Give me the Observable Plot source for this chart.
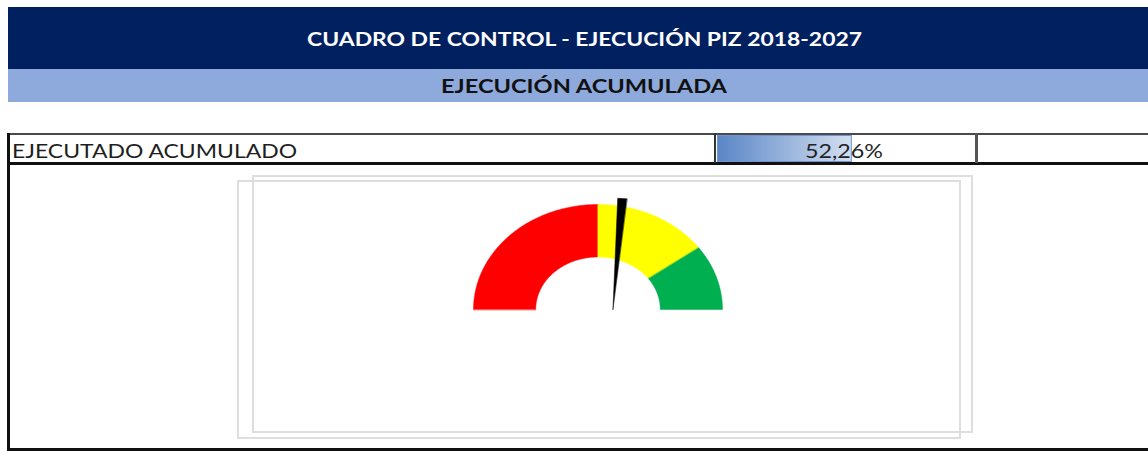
<!DOCTYPE html>
<html><head><meta charset="utf-8">
<script src="https://cdn.jsdelivr.net/npm/d3@7"></script>
<script src="https://cdn.jsdelivr.net/npm/@observablehq/plot@0.6"></script>
<style>
html,body{margin:0;padding:0;background:#fff;}
body{width:1148px;height:451px;position:relative;overflow:hidden;font-family:Lato,"Open Sans",sans-serif;}
.abs{position:absolute;box-sizing:border-box;}
.txt{position:absolute;white-space:nowrap;transform-origin:0 50%;line-height:1;}
</style></head><body>
<div class="abs" style="left:8px;top:7px;width:1140px;height:62px;background:#002060"></div>
<div class="abs" style="left:8px;top:69px;width:1140px;height:33px;background:#8EA9DB"></div>

<div class="abs" style="left:7px;top:133px;width:1141px;height:2px;background:#4a4a4a"></div>
<div class="abs" style="left:7px;top:162px;width:1141px;height:3px;background:#111"></div>
<div class="abs" style="left:7px;top:133px;width:3px;height:318px;background:#111"></div>
<div class="abs" style="left:7px;top:448px;width:1141px;height:3px;background:#111"></div>
<div class="abs" style="left:714px;top:133px;width:2px;height:30px;background:#333"></div>
<div class="abs" style="left:975px;top:133px;width:3px;height:30px;background:#555"></div>

<div class="abs" style="left:237px;top:180px;width:724px;height:259px;border:2px solid #DEDEDE"></div>
<div class="abs" style="left:252px;top:175px;width:721px;height:258px;border:2px solid #DEDEDE"></div>

<div id="databar" class="abs" style="left:717px;top:135px;width:258px;height:27px"></div>
<div id="gauge" class="abs" style="left:237px;top:175px;width:737px;height:264px"></div>

<script>
// ---- Data ----
const titleText = "CUADRO DE CONTROL - EJECUCIÓN PIZ 2018-2027";
const subtitleText = "EJECUCIÓN ACUMULADA";
const rowLabel = "EJECUTADO ACUMULADO";
const executedPct = 52.26;
const bandNames = ["Bajo", "Medio", "Alto"];
const bandFrom = [0, 50, 80];
const bandTo = [50, 80, 100];
const bandColors = ["#FF0000", "#FFFF00", "#00B050"];

// ---- Text helper ----
function placeText(str, o) {
  const el = document.createElement("div");
  el.className = "txt";
  el.textContent = str;
  el.style.fontSize = o.size + "px";
  el.style.fontWeight = o.weight;
  el.style.color = o.color;
  document.body.appendChild(el);
  const r = el.getBoundingClientRect();
  const s = o.width / r.width;
  const x0 = o.left != null ? o.left : (o.right != null ? o.right - o.width : o.cx - o.width / 2);
  el.style.left = x0 + "px";
  el.style.top = (o.cy - r.height / 2 - 0.5) + "px";
  el.style.transform = `scaleX(${s})`;
}
placeText(titleText, {cx: 584.5, cy: 39.4, width: 555, size: 19, weight: 700, color: "#ffffff"});
placeText(subtitleText, {cx: 584, cy: 86.3, width: 286, size: 18, weight: 700, color: "#111111"});
placeText(rowLabel, {left: 12, cy: 151.3, width: 285, size: 18.5, weight: 400, color: "#1e1e1e"});
const valueText = executedPct.toFixed(2).replace(".", ",") + "%";
placeText(valueText, {right: 883, cy: 151, width: 78, size: 19, weight: 400, color: "#222222"});

// ---- Data bar (Excel-like) ----
const gradDefs = () => {
  const ns = "http://www.w3.org/2000/svg";
  const defs = document.createElementNS(ns, "defs");
  const g = document.createElementNS(ns, "linearGradient");
  g.setAttribute("id", "dataBarGrad");
  g.setAttribute("x1", "0"); g.setAttribute("x2", "1"); g.setAttribute("y1", "0"); g.setAttribute("y2", "0");
  [["0", "#5A86C6"], ["1", "#D4DFF1"]].forEach(([off, c]) => {
    const s = document.createElementNS(ns, "stop");
    s.setAttribute("offset", off); s.setAttribute("stop-color", c);
    g.appendChild(s);
  });
  defs.appendChild(g);
  return defs;
};
const bar = Plot.plot({
  width: 258, height: 27, margin: 0,
  x: {domain: [0, 100], axis: null},
  style: {background: "transparent"},
  marks: [
    gradDefs,
    Plot.barX([executedPct], {x1: 0, x2: d => d, fill: "url(#dataBarGrad)", stroke: "#6E95CE", strokeWidth: 1, insetTop: 0.5, insetBottom: 0.5, insetLeft: 0.5, insetRight: 0.5})
  ]
});
document.getElementById("databar").appendChild(bar);

// ---- Gauge ----
const W = 737, H = 264, cxPx = 360.5, cyPx = 134, rxPx = 124.5, ryPx = 105;
const innerRatio = 0.5;
const ang = p => Math.PI * (1 - p / 100);
const arcRows = [];
bandNames.forEach((name, i) => {
  const n = 80, a0 = bandFrom[i], a1 = bandTo[i];
  for (let k = 0; k <= n; k++) {
    const a = ang(a0 + (a1 - a0) * k / n);
    arcRows.push({band: name, x: Math.cos(a), y: Math.sin(a)});
  }
  for (let k = n; k >= 0; k--) {
    const a = ang(a0 + (a1 - a0) * k / n);
    arcRows.push({band: name, x: innerRatio * Math.cos(a), y: innerRatio * Math.sin(a)});
  }
});
const pivotX = 0.12, needleLen = 1.06, halfW = 2 * Math.PI / 180;
const na = ang(executedPct);
const needleRows = [
  {x: pivotX, y: 0},
  {x: pivotX + needleLen * Math.cos(na + halfW), y: needleLen * Math.sin(na + halfW)},
  {x: pivotX + needleLen * Math.cos(na - halfW), y: needleLen * Math.sin(na - halfW)}
];
const gauge = Plot.plot({
  width: W, height: H, margin: 0,
  x: {domain: [-cxPx / rxPx, (W - cxPx) / rxPx], axis: null},
  y: {domain: [-(H - cyPx) / ryPx, cyPx / ryPx], axis: null},
  color: {domain: bandNames, range: bandColors},
  style: {background: "transparent", overflow: "visible"},
  marks: [
    Plot.line(arcRows, {x: "x", y: "y", z: "band", fill: "band", stroke: "band", strokeWidth: 0.5, curve: "linear-closed"}),
    Plot.line(needleRows, {x: "x", y: "y", fill: "#000000", stroke: "#000000", strokeWidth: 0.5, curve: "linear-closed"})
  ]
});
document.getElementById("gauge").appendChild(gauge);
</script>
</body></html>
